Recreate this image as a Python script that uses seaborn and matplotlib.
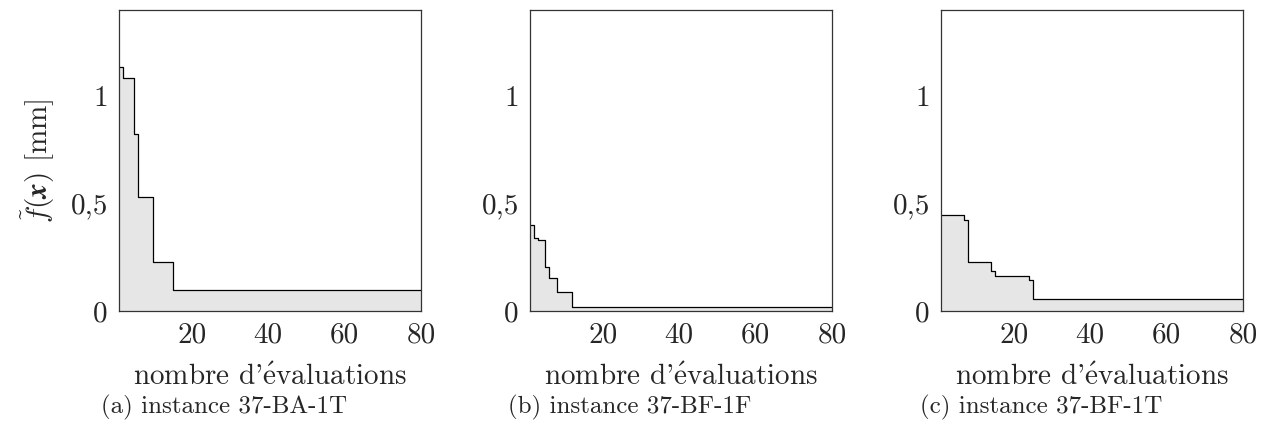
import numpy as np
import pandas as pd
import matplotlib
matplotlib.use("Agg")
import matplotlib.pyplot as plt
import seaborn as sns

# best objective found so far, recorded at the evaluations where it improved
evals_a = [1, 2, 5, 6, 10, 15]
best_a = [1.133, 1.082, 0.822, 0.532, 0.227, 0.098]
evals_b = [1, 2, 3, 5, 6, 8, 12]
best_b = [0.402, 0.340, 0.332, 0.205, 0.155, 0.088, 0.019]
evals_c = [1, 7, 8, 14, 15, 24, 25]
best_c = [0.447, 0.423, 0.230, 0.185, 0.165, 0.144, 0.056]

budget = 80
captions = ["(a) instance 37-BA-1T", "(b) instance 37-BF-1F", "(c) instance 37-BF-1T"]
x_ticks = [20, 40, 60, 80]
y_ticks = [0, 0.5, 1]
y_ticklabels = ["0", "0,5", "1"]

sns.set_style("white")
plt.rcParams["font.family"] = ["cmr10", "DejaVu Serif"]
plt.rcParams["mathtext.fontset"] = "cm"
plt.rcParams["axes.formatter.use_mathtext"] = True

fig = plt.figure(figsize=(12.68, 4.37), dpi=100)
W, H = 1268, 437
lefts = [119, 530, 941]
ax_w, top, bottom = 302, 10, 311
caption_x = [101, 508, 920]


def history_frame(evals, best):
    # extend the last value up to the evaluation budget
    x = list(evals) + [budget]
    y = list(best) + [best[-1]]
    return pd.DataFrame({"eval": x, "f": y})


series = [(evals_a, best_a), (evals_b, best_b), (evals_c, best_c)]

for i, (evals, best) in enumerate(series):
    ax = fig.add_axes([lefts[i] / W, (H - bottom) / H, ax_w / W, (bottom - top) / H])
    df = history_frame(evals, best)
    ax.fill_between(df["eval"], df["f"], step="post", color="#e6e6e6", linewidth=0)
    sns.lineplot(data=df, x="eval", y="f", ax=ax, color="black", linewidth=0.9,
                 drawstyle="steps-post", estimator=None, sort=False)
    ax.set_xlim(1, budget)
    ax.set_ylim(0, 1.4)
    ax.set_xticks(x_ticks)
    ax.set_xticklabels([str(t) for t in x_ticks])
    ax.set_yticks(y_ticks)
    ax.set_yticklabels(y_ticklabels)
    ax.tick_params(direction="in", length=7.5, width=0.8, color="#a0a0a0",
                   labelsize=21, pad=8)
    for sp in ax.spines.values():
        sp.set_color("#333333")
        sp.set_linewidth(0.9)
    ax.set_xlabel(r"nombre d'$\acute{\rm e}$valuations", fontsize=21, labelpad=11)
    if i == 0:
        ax.set_ylabel(r"$\tilde{f}(\boldsymbol{x})$ [mm]", fontsize=21, labelpad=10)
    else:
        ax.set_ylabel("")
    fig.text(caption_x[i] / W, 1 - 407 / H, captions[i], fontsize=18,
             ha="left", va="center")

plt.savefig("out.png", dpi=100)
